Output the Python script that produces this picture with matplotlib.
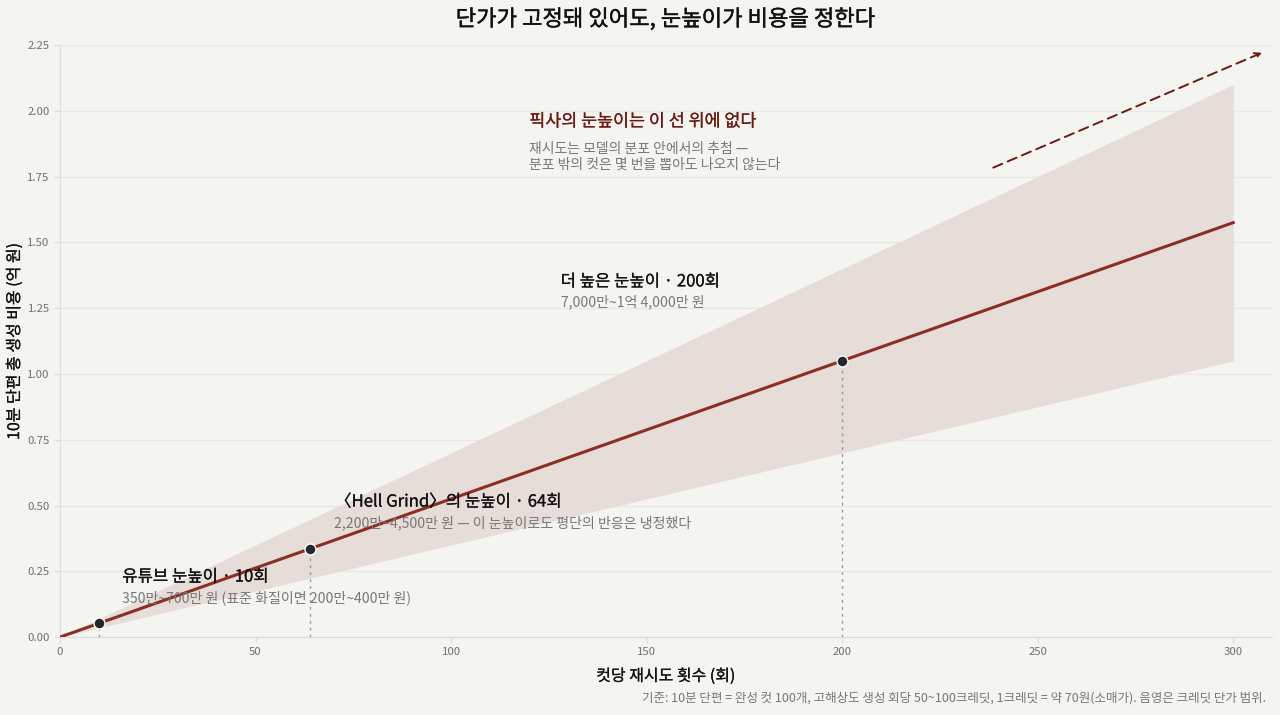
import matplotlib
matplotlib.use("Agg")
import matplotlib.pyplot as plt
import matplotlib.patheffects as pe
import numpy as np

plt.rcParams['font.family'] = ['Noto Sans CJK KR', 'DejaVu Sans']

# Data
retries = np.array([0, 300])
cuts = 100
credit_low, credit_mid, credit_high = 50, 75, 100
won_per_credit = 70
mark_retries = [10, 64, 200]

def cost(r, credits):
    return np.asarray(r) * cuts * credits * won_per_credit / 1e8

def med(color, w=0.2):
    return [pe.withStroke(linewidth=w, foreground=color)]

bg = '#f4f4f0'
line_c = '#8b2e26'
fig = plt.figure(figsize=(12.8, 7.15), dpi=100, facecolor=bg)
ax = fig.add_axes([0.0469, 0.109, 0.9471, 0.828])
ax.set_facecolor(bg)

ax.fill_between(retries, cost(retries, credit_low), cost(retries, credit_high),
                color='#e6dcd8', linewidth=0, zorder=1)
ax.plot(retries, cost(retries, credit_mid), color=line_c, lw=2.2, zorder=3)
for r in mark_retries:
    ax.plot([r, r], [0, cost(r, credit_mid)], color='#999999', lw=1, ls=(0, (2, 3)), zorder=2)
ax.scatter(mark_retries, cost(mark_retries, credit_mid), s=62, color='#23262b',
           edgecolor='white', linewidth=1, zorder=4)

ax.annotate('', xy=(308, 2.225), xytext=(238, 1.78),
            arrowprops=dict(arrowstyle='->', color='#6b1a14', lw=1.4, ls=(0, (5, 3))))

ax.set_xlim(0, 310)
ax.set_ylim(0, 2.25)
ax.set_xticks([0, 50, 100, 150, 200, 250, 300])
ax.set_yticks(np.arange(0, 2.26, 0.25))
ax.set_yticklabels([f'{v:.2f}' for v in np.arange(0, 2.26, 0.25)])
ax.grid(axis='y', color='#e8e8e4', lw=1)
ax.set_axisbelow(True)
for s in ['top', 'right']:
    ax.spines[s].set_visible(False)
for s in ['left', 'bottom']:
    ax.spines[s].set_color('#dcdcd8')
ax.tick_params(colors='#dcdcd8', labelcolor='#707070', labelsize=8.2, length=4)

ax.set_xlabel('컷당 재시도 횟수 (회)', fontsize=11.5, color='#111111',
              path_effects=med('#111111', 0.15))
ax.xaxis.set_label_coords(0.5, -0.052)
ax.set_ylabel('10분 단편 총 생성 비용 (억 원)', fontsize=11.5, color='#111111',
              path_effects=med('#111111', 0.15))
ax.yaxis.set_label_coords(-0.0305, 0.5)
fig.text(0.5203, 0.973, '단가가 고정돼 있어도, 눈높이가 비용을 정한다', fontsize=16,
         color='#111111', ha='center', va='center', path_effects=med('#111111', 0.3))

ax.text(120, 1.96, '픽사의 눈높이는 이 선 위에 없다', fontsize=12.5, color='#6b1a14',
        va='center', path_effects=med('#6b1a14', 0.15))
ax.text(120, 1.88, '재시도는 모델의 분포 안에서의 추첨 —\n분포 밖의 컷은 몇 번을 뽑아도 나오지 않는다',
        fontsize=10, color='#777777', va='top', linespacing=1.1)

ax.text(128, 1.35, '더 높은 눈높이 · 200회', fontsize=12, color='#111111', va='center',
        path_effects=med('#111111', 0.15))
ax.text(128, 1.273, '7,000만~1억 4,000만 원', fontsize=10.1, color='#777777', va='center')

ax.text(70.3, 0.513, '〈Hell Grind〉의 눈높이 · 64회', fontsize=12, color='#111111',
        va='center', path_effects=med('#111111', 0.15))
ax.text(70, 0.433, '2,200만~4,500만 원 — 이 눈높이로도 평단의 반응은 냉정했다', fontsize=10.1,
        color='#777777', va='center')

ax.text(15.9, 0.228, '유튜브 눈높이 · 10회', fontsize=12, color='#111111', va='center',
        path_effects=med('#111111', 0.15))
ax.text(15.9, 0.148, '350만~700만 원 (표준 화질이면 200만~400만 원)', fontsize=10.1,
        color='#777777', va='center')

fig.text(0.989, 0.024, '기준: 10분 단편 = 완성 컷 100개, 고해상도 생성 회당 50~100크레딧, 1크레딧 = 약 70원(소매가). 음영은 크레딧 단가 범위.',
         ha='right', va='center', fontsize=9, color='#777777')

fig.savefig('out.png', dpi=100, facecolor=bg)
